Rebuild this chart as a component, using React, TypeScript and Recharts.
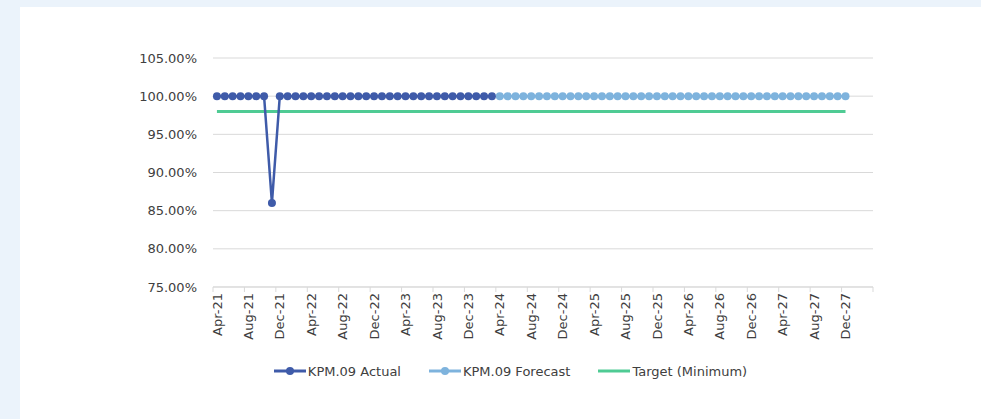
import { LineChart, Line, XAxis, YAxis, CartesianGrid, Legend } from "recharts";

const monthNames = ["Jan", "Feb", "Mar", "Apr", "May", "Jun", "Jul", "Aug", "Sep", "Oct", "Nov", "Dec"];

// Apr-21 .. Mar-28, one category per month
const categories: string[] = [];
for (let i = 0; i < 84; i++) {
  const m = (3 + i) % 12;
  const y = 21 + Math.floor((3 + i) / 12);
  categories.push(`${monthNames[m]}-${y}`);
}

// Apr-21 .. Mar-24
const actual = [
  100, 100, 100, 100, 100, 100, 100, 86, 100,
  100, 100, 100, 100, 100, 100, 100, 100, 100, 100, 100, 100,
  100, 100, 100, 100, 100, 100, 100, 100, 100, 100, 100, 100,
  100, 100, 100,
];

// Apr-24 .. Dec-27
const forecast = [
  100, 100, 100, 100, 100, 100, 100, 100, 100,
  100, 100, 100, 100, 100, 100, 100, 100, 100, 100, 100, 100,
  100, 100, 100, 100, 100, 100, 100, 100, 100, 100, 100, 100,
  100, 100, 100, 100, 100, 100, 100, 100, 100, 100, 100, 100,
];

// Apr-21 .. Dec-27
const target = new Array(81).fill(98);

const yTicks = [75, 80, 85, 90, 95, 100, 105];

const forecastStart = actual.length;

const data = categories.map((month, i) => ({
  month,
  actual: i < actual.length ? actual[i] : undefined,
  forecast: i >= forecastStart && i - forecastStart < forecast.length ? forecast[i - forecastStart] : undefined,
  target: i < target.length ? target[i] : undefined,
}));

const FONT = "'DejaVu Sans', sans-serif";
const TEXT = "#404040";
const ACTUAL = "#3F5BA9";
const FORECAST = "#7EB3DD";
const TARGET = "#4FCB94";
const BAND = 660 / 84;

const XTick = (props: any) => {
  const { x, y, payload, index } = props;
  return (
    <g>
      <line x1={x - BAND / 2} x2={x - BAND / 2} y1={y} y2={y + 5} stroke="#d9d9d9" />
      {payload.index === 80 || index === 20 ? (
        <line x1={x + BAND * 3.5} x2={x + BAND * 3.5} y1={y} y2={y + 5} stroke="#d9d9d9" />
      ) : null}
      <text
        transform={`translate(${x},${y + 6}) rotate(-90)`}
        textAnchor="end"
        dy="0.36em"
        fill={TEXT}
        fontSize={13}
        fontFamily={FONT}
      >
        {payload.value}
      </text>
    </g>
  );
};

const LegendContent = () => {
  const items = [
    { label: "KPM.09 Actual", color: ACTUAL, dot: true },
    { label: "KPM.09 Forecast", color: FORECAST, dot: true },
    { label: "Target (Minimum)", color: TARGET, dot: false },
  ];
  return (
    <div style={{ display: "flex", justifyContent: "center", height: 24, alignItems: "center", gap: 28 }}>
      {items.map((it) => (
        <div key={it.label} style={{ display: "flex", alignItems: "center" }}>
          <svg width={32} height={12}>
            <line x1={0} x2={32} y1={6} y2={6} stroke={it.color} strokeWidth={3} />
            {it.dot ? <circle cx={16} cy={6} r={4} fill={it.color} /> : null}
          </svg>
          <span style={{ marginLeft: 2, fontSize: 13, fontFamily: FONT, color: TEXT }}>{it.label}</span>
        </div>
      ))}
    </div>
  );
};

export default function App() {
  return (
    <div style={{ position: "fixed", left: 0, top: 0, width: 981, height: 419, background: "#EBF3FB" }}>
      <div style={{ position: "absolute", left: 20, top: 7, width: 961, height: 412, background: "#fff" }}>
        <LineChart width={961} height={412} data={data} margin={{ top: 51, right: 108, left: 0, bottom: 36 }}>
          <CartesianGrid vertical={false} stroke="#d9d9d9" />
          <XAxis
            dataKey="month"
            interval={3}
            height={72}
            padding={{ left: BAND / 2, right: BAND / 2 }}
            axisLine={{ stroke: "#d9d9d9" }}
            tickLine={false}
            tickSize={0}
            tickMargin={0}
            tick={<XTick />}
          />
          <YAxis
            width={193}
            domain={[75, 105]}
            ticks={yTicks}
            axisLine={false}
            tickLine={false}
            tickMargin={10}
            tickFormatter={(v: number) => `${v.toFixed(2)}%`}
            tick={{ fill: TEXT, fontSize: 13, fontFamily: FONT }}
          />
          <Line
            dataKey="target"
            stroke={TARGET}
            strokeWidth={3}
            dot={false}
            isAnimationActive={false}
          />
          <Line
            dataKey="forecast"
            stroke={FORECAST}
            strokeWidth={2.5}
            dot={{ r: 4, fill: FORECAST, stroke: FORECAST, strokeWidth: 0 }}
            isAnimationActive={false}
          />
          <Line
            dataKey="actual"
            stroke={ACTUAL}
            strokeWidth={2.5}
            dot={{ r: 4, fill: ACTUAL, stroke: ACTUAL, strokeWidth: 0 }}
            isAnimationActive={false}
          />
          <Legend
            verticalAlign="bottom"
            content={<LegendContent />}
            wrapperStyle={{ left: 20, width: 941 }}
          />
        </LineChart>
      </div>
    </div>
  );
}
